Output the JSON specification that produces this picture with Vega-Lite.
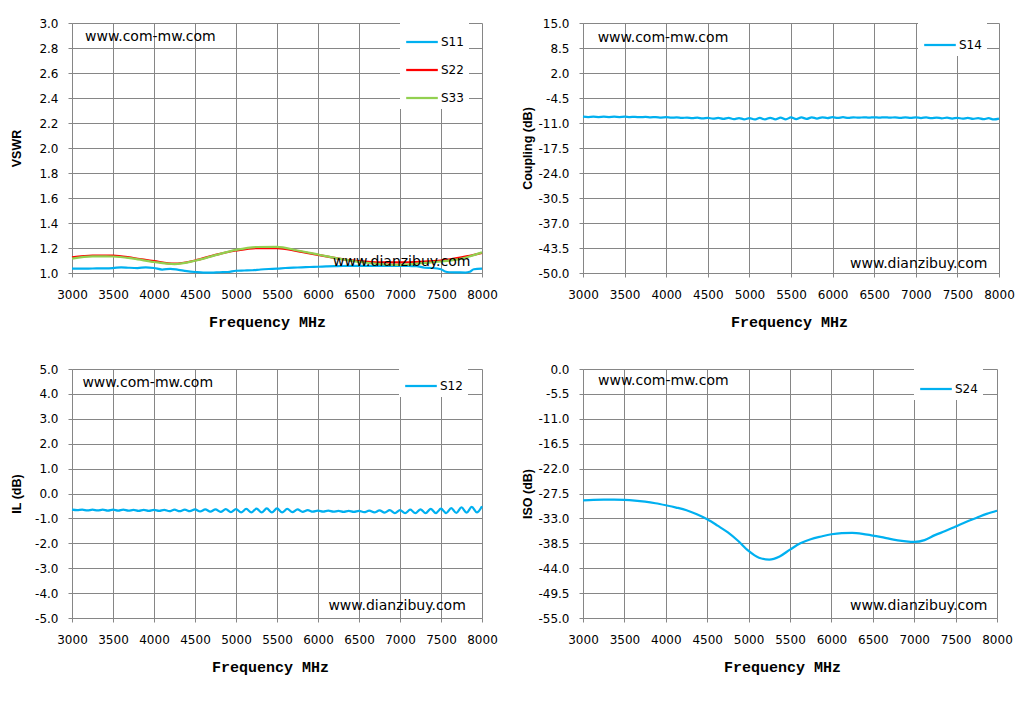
{
  "$schema": "https://vega.github.io/schema/vega-lite/v6.json",
  "padding": {"left": 10, "top": 17, "right": 5, "bottom": 5},
  "background": "#ffffff",
  "columns": 2,
  "bounds": "flush",
  "align": "each",
  "spacing": {"row": 96, "column": 101},
  "resolve": {"scale": {"color": "independent"}, "legend": {"color": "independent"}},
  "datasets": {
    "vswr": [
      {"f": 3000, "v": 1.035, "s": "S11"}, {"f": 3100, "v": 1.035, "s": "S11"}, {"f": 3200, "v": 1.035, "s": "S11"}, {"f": 3300, "v": 1.037, "s": "S11"}, {"f": 3400, "v": 1.037, "s": "S11"}, {"f": 3500, "v": 1.039, "s": "S11"}, {"f": 3600, "v": 1.046, "s": "S11"}, {"f": 3700, "v": 1.042, "s": "S11"}, {"f": 3800, "v": 1.04, "s": "S11"}, {"f": 3900, "v": 1.046, "s": "S11"}, {"f": 4000, "v": 1.04, "s": "S11"}, {"f": 4100, "v": 1.028, "s": "S11"}, {"f": 4200, "v": 1.034, "s": "S11"}, {"f": 4300, "v": 1.025, "s": "S11"}, {"f": 4400, "v": 1.015, "s": "S11"}, {"f": 4500, "v": 1.008, "s": "S11"}, {"f": 4600, "v": 1.003, "s": "S11"}, {"f": 4700, "v": 1.003, "s": "S11"}, {"f": 4800, "v": 1.006, "s": "S11"}, {"f": 4900, "v": 1.008, "s": "S11"}, {"f": 5000, "v": 1.018, "s": "S11"}, {"f": 5100, "v": 1.02, "s": "S11"}, {"f": 5200, "v": 1.022, "s": "S11"}, {"f": 5300, "v": 1.028, "s": "S11"}, {"f": 5400, "v": 1.032, "s": "S11"}, {"f": 5500, "v": 1.035, "s": "S11"}, {"f": 5600, "v": 1.04, "s": "S11"}, {"f": 5700, "v": 1.043, "s": "S11"}, {"f": 5800, "v": 1.045, "s": "S11"}, {"f": 5900, "v": 1.048, "s": "S11"}, {"f": 6000, "v": 1.05, "s": "S11"}, {"f": 6100, "v": 1.053, "s": "S11"}, {"f": 6200, "v": 1.055, "s": "S11"}, {"f": 6300, "v": 1.056, "s": "S11"}, {"f": 6400, "v": 1.057, "s": "S11"}, {"f": 6500, "v": 1.058, "s": "S11"}, {"f": 6600, "v": 1.058, "s": "S11"}, {"f": 6700, "v": 1.058, "s": "S11"}, {"f": 6800, "v": 1.058, "s": "S11"}, {"f": 6900, "v": 1.058, "s": "S11"}, {"f": 7000, "v": 1.058, "s": "S11"}, {"f": 7100, "v": 1.056, "s": "S11"}, {"f": 7200, "v": 1.055, "s": "S11"}, {"f": 7300, "v": 1.042, "s": "S11"}, {"f": 7400, "v": 1.04, "s": "S11"}, {"f": 7500, "v": 1.03, "s": "S11"}, {"f": 7550, "v": 1.012, "s": "S11"}, {"f": 7600, "v": 1.006, "s": "S11"}, {"f": 7700, "v": 1.005, "s": "S11"}, {"f": 7800, "v": 1.004, "s": "S11"}, {"f": 7850, "v": 1.01, "s": "S11"}, {"f": 7900, "v": 1.03, "s": "S11"}, {"f": 8000, "v": 1.035, "s": "S11"},
      {"f": 3000, "v": 1.125, "s": "S22"}, {"f": 3250, "v": 1.14, "s": "S22"}, {"f": 3500, "v": 1.14, "s": "S22"}, {"f": 3750, "v": 1.12, "s": "S22"}, {"f": 4000, "v": 1.095, "s": "S22"}, {"f": 4250, "v": 1.075, "s": "S22"}, {"f": 4500, "v": 1.1, "s": "S22"}, {"f": 4750, "v": 1.145, "s": "S22"}, {"f": 5000, "v": 1.18, "s": "S22"}, {"f": 5250, "v": 1.2, "s": "S22"}, {"f": 5500, "v": 1.2, "s": "S22"}, {"f": 5750, "v": 1.175, "s": "S22"}, {"f": 6000, "v": 1.145, "s": "S22"}, {"f": 6250, "v": 1.115, "s": "S22"}, {"f": 6500, "v": 1.095, "s": "S22"}, {"f": 6750, "v": 1.085, "s": "S22"}, {"f": 7000, "v": 1.085, "s": "S22"}, {"f": 7250, "v": 1.09, "s": "S22"}, {"f": 7500, "v": 1.1, "s": "S22"}, {"f": 7750, "v": 1.125, "s": "S22"}, {"f": 8000, "v": 1.16, "s": "S22"},
      {"f": 3000, "v": 1.115, "s": "S33"}, {"f": 3250, "v": 1.133, "s": "S33"}, {"f": 3500, "v": 1.132, "s": "S33"}, {"f": 3750, "v": 1.115, "s": "S33"}, {"f": 4000, "v": 1.088, "s": "S33"}, {"f": 4250, "v": 1.072, "s": "S33"}, {"f": 4500, "v": 1.098, "s": "S33"}, {"f": 4750, "v": 1.143, "s": "S33"}, {"f": 5000, "v": 1.185, "s": "S33"}, {"f": 5250, "v": 1.208, "s": "S33"}, {"f": 5500, "v": 1.21, "s": "S33"}, {"f": 5750, "v": 1.18, "s": "S33"}, {"f": 6000, "v": 1.148, "s": "S33"}, {"f": 6250, "v": 1.115, "s": "S33"}, {"f": 6500, "v": 1.088, "s": "S33"}, {"f": 6750, "v": 1.072, "s": "S33"}, {"f": 7000, "v": 1.065, "s": "S33"}, {"f": 7250, "v": 1.078, "s": "S33"}, {"f": 7500, "v": 1.092, "s": "S33"}, {"f": 7750, "v": 1.115, "s": "S33"}, {"f": 8000, "v": 1.165, "s": "S33"}
    ],
    "s14": [
      {"f": 3000, "v": -9.36, "s": "S14"}, {"f": 3062.5, "v": -9.44, "s": "S14"}, {"f": 3125, "v": -9.36, "s": "S14"}, {"f": 3187.5, "v": -9.44, "s": "S14"}, {"f": 3250, "v": -9.36, "s": "S14"}, {"f": 3312.5, "v": -9.44, "s": "S14"}, {"f": 3375, "v": -9.36, "s": "S14"}, {"f": 3437.5, "v": -9.44, "s": "S14"}, {"f": 3500, "v": -9.36, "s": "S14"}, {"f": 3562.5, "v": -9.46, "s": "S14"}, {"f": 3625, "v": -9.39, "s": "S14"}, {"f": 3687.5, "v": -9.5, "s": "S14"}, {"f": 3750, "v": -9.43, "s": "S14"}, {"f": 3812.5, "v": -9.54, "s": "S14"}, {"f": 3875, "v": -9.46, "s": "S14"}, {"f": 3937.5, "v": -9.58, "s": "S14"}, {"f": 4000, "v": -9.5, "s": "S14"}, {"f": 4062.5, "v": -9.63, "s": "S14"}, {"f": 4125, "v": -9.54, "s": "S14"}, {"f": 4187.5, "v": -9.69, "s": "S14"}, {"f": 4250, "v": -9.58, "s": "S14"}, {"f": 4312.5, "v": -9.76, "s": "S14"}, {"f": 4375, "v": -9.61, "s": "S14"}, {"f": 4437.5, "v": -9.82, "s": "S14"}, {"f": 4500, "v": -9.65, "s": "S14"}, {"f": 4562.5, "v": -9.88, "s": "S14"}, {"f": 4625, "v": -9.67, "s": "S14"}, {"f": 4687.5, "v": -9.94, "s": "S14"}, {"f": 4750, "v": -9.69, "s": "S14"}, {"f": 4812.5, "v": -9.99, "s": "S14"}, {"f": 4875, "v": -9.7, "s": "S14"}, {"f": 4937.5, "v": -10.05, "s": "S14"}, {"f": 5000, "v": -9.72, "s": "S14"}, {"f": 5062.5, "v": -10.08, "s": "S14"}, {"f": 5125, "v": -9.68, "s": "S14"}, {"f": 5187.5, "v": -10.07, "s": "S14"}, {"f": 5250, "v": -9.64, "s": "S14"}, {"f": 5312.5, "v": -10.06, "s": "S14"}, {"f": 5375, "v": -9.59, "s": "S14"}, {"f": 5437.5, "v": -10.05, "s": "S14"}, {"f": 5500, "v": -9.55, "s": "S14"}, {"f": 5562.5, "v": -10.01, "s": "S14"}, {"f": 5625, "v": -9.54, "s": "S14"}, {"f": 5687.5, "v": -9.92, "s": "S14"}, {"f": 5750, "v": -9.53, "s": "S14"}, {"f": 5812.5, "v": -9.83, "s": "S14"}, {"f": 5875, "v": -9.51, "s": "S14"}, {"f": 5937.5, "v": -9.74, "s": "S14"}, {"f": 6000, "v": -9.5, "s": "S14"}, {"f": 6062.5, "v": -9.69, "s": "S14"}, {"f": 6125, "v": -9.5, "s": "S14"}, {"f": 6187.5, "v": -9.66, "s": "S14"}, {"f": 6250, "v": -9.51, "s": "S14"}, {"f": 6312.5, "v": -9.63, "s": "S14"}, {"f": 6375, "v": -9.51, "s": "S14"}, {"f": 6437.5, "v": -9.6, "s": "S14"}, {"f": 6500, "v": -9.51, "s": "S14"}, {"f": 6562.5, "v": -9.6, "s": "S14"}, {"f": 6625, "v": -9.51, "s": "S14"}, {"f": 6687.5, "v": -9.62, "s": "S14"}, {"f": 6750, "v": -9.52, "s": "S14"}, {"f": 6812.5, "v": -9.65, "s": "S14"}, {"f": 6875, "v": -9.52, "s": "S14"}, {"f": 6937.5, "v": -9.67, "s": "S14"}, {"f": 7000, "v": -9.52, "s": "S14"}, {"f": 7062.5, "v": -9.7, "s": "S14"}, {"f": 7125, "v": -9.55, "s": "S14"}, {"f": 7187.5, "v": -9.74, "s": "S14"}, {"f": 7250, "v": -9.59, "s": "S14"}, {"f": 7312.5, "v": -9.79, "s": "S14"}, {"f": 7375, "v": -9.62, "s": "S14"}, {"f": 7437.5, "v": -9.83, "s": "S14"}, {"f": 7500, "v": -9.65, "s": "S14"}, {"f": 7562.5, "v": -9.88, "s": "S14"}, {"f": 7625, "v": -9.69, "s": "S14"}, {"f": 7687.5, "v": -9.94, "s": "S14"}, {"f": 7750, "v": -9.73, "s": "S14"}, {"f": 7812.5, "v": -10.01, "s": "S14"}, {"f": 7875, "v": -9.76, "s": "S14"}, {"f": 7937.5, "v": -10.07, "s": "S14"}, {"f": 8000, "v": -9.85, "s": "S14"}
    ],
    "s12": [
      {"f": 3000, "v": -0.65, "s": "S12"}, {"f": 3062.5, "v": -0.67, "s": "S12"}, {"f": 3125, "v": -0.65, "s": "S12"}, {"f": 3187.5, "v": -0.68, "s": "S12"}, {"f": 3250, "v": -0.65, "s": "S12"}, {"f": 3312.5, "v": -0.68, "s": "S12"}, {"f": 3375, "v": -0.65, "s": "S12"}, {"f": 3437.5, "v": -0.69, "s": "S12"}, {"f": 3500, "v": -0.65, "s": "S12"}, {"f": 3562.5, "v": -0.69, "s": "S12"}, {"f": 3625, "v": -0.65, "s": "S12"}, {"f": 3687.5, "v": -0.69, "s": "S12"}, {"f": 3750, "v": -0.66, "s": "S12"}, {"f": 3812.5, "v": -0.7, "s": "S12"}, {"f": 3875, "v": -0.66, "s": "S12"}, {"f": 3937.5, "v": -0.7, "s": "S12"}, {"f": 4000, "v": -0.66, "s": "S12"}, {"f": 4062.5, "v": -0.7, "s": "S12"}, {"f": 4125, "v": -0.66, "s": "S12"}, {"f": 4187.5, "v": -0.71, "s": "S12"}, {"f": 4250, "v": -0.65, "s": "S12"}, {"f": 4312.5, "v": -0.71, "s": "S12"}, {"f": 4375, "v": -0.65, "s": "S12"}, {"f": 4437.5, "v": -0.71, "s": "S12"}, {"f": 4500, "v": -0.64, "s": "S12"}, {"f": 4562.5, "v": -0.72, "s": "S12"}, {"f": 4625, "v": -0.64, "s": "S12"}, {"f": 4687.5, "v": -0.73, "s": "S12"}, {"f": 4750, "v": -0.64, "s": "S12"}, {"f": 4812.5, "v": -0.74, "s": "S12"}, {"f": 4875, "v": -0.63, "s": "S12"}, {"f": 4937.5, "v": -0.75, "s": "S12"}, {"f": 5000, "v": -0.63, "s": "S12"}, {"f": 5062.5, "v": -0.76, "s": "S12"}, {"f": 5125, "v": -0.62, "s": "S12"}, {"f": 5187.5, "v": -0.76, "s": "S12"}, {"f": 5250, "v": -0.61, "s": "S12"}, {"f": 5312.5, "v": -0.76, "s": "S12"}, {"f": 5375, "v": -0.6, "s": "S12"}, {"f": 5437.5, "v": -0.76, "s": "S12"}, {"f": 5500, "v": -0.6, "s": "S12"}, {"f": 5562.5, "v": -0.76, "s": "S12"}, {"f": 5625, "v": -0.62, "s": "S12"}, {"f": 5687.5, "v": -0.75, "s": "S12"}, {"f": 5750, "v": -0.64, "s": "S12"}, {"f": 5812.5, "v": -0.74, "s": "S12"}, {"f": 5875, "v": -0.67, "s": "S12"}, {"f": 5937.5, "v": -0.73, "s": "S12"}, {"f": 6000, "v": -0.69, "s": "S12"}, {"f": 6062.5, "v": -0.73, "s": "S12"}, {"f": 6125, "v": -0.69, "s": "S12"}, {"f": 6187.5, "v": -0.73, "s": "S12"}, {"f": 6250, "v": -0.7, "s": "S12"}, {"f": 6312.5, "v": -0.74, "s": "S12"}, {"f": 6375, "v": -0.7, "s": "S12"}, {"f": 6437.5, "v": -0.74, "s": "S12"}, {"f": 6500, "v": -0.7, "s": "S12"}, {"f": 6562.5, "v": -0.75, "s": "S12"}, {"f": 6625, "v": -0.69, "s": "S12"}, {"f": 6687.5, "v": -0.76, "s": "S12"}, {"f": 6750, "v": -0.68, "s": "S12"}, {"f": 6812.5, "v": -0.77, "s": "S12"}, {"f": 6875, "v": -0.67, "s": "S12"}, {"f": 6937.5, "v": -0.79, "s": "S12"}, {"f": 7000, "v": -0.67, "s": "S12"}, {"f": 7062.5, "v": -0.79, "s": "S12"}, {"f": 7125, "v": -0.65, "s": "S12"}, {"f": 7187.5, "v": -0.79, "s": "S12"}, {"f": 7250, "v": -0.64, "s": "S12"}, {"f": 7312.5, "v": -0.79, "s": "S12"}, {"f": 7375, "v": -0.62, "s": "S12"}, {"f": 7437.5, "v": -0.79, "s": "S12"}, {"f": 7500, "v": -0.61, "s": "S12"}, {"f": 7562.5, "v": -0.79, "s": "S12"}, {"f": 7625, "v": -0.59, "s": "S12"}, {"f": 7687.5, "v": -0.78, "s": "S12"}, {"f": 7750, "v": -0.56, "s": "S12"}, {"f": 7812.5, "v": -0.77, "s": "S12"}, {"f": 7875, "v": -0.54, "s": "S12"}, {"f": 7937.5, "v": -0.76, "s": "S12"}, {"f": 8000, "v": -0.51, "s": "S12"}
    ],
    "s24": [
      {"f": 3000, "v": -29.0, "s": "S24"}, {"f": 3125, "v": -28.9, "s": "S24"}, {"f": 3250, "v": -28.85, "s": "S24"}, {"f": 3375, "v": -28.85, "s": "S24"}, {"f": 3500, "v": -28.9, "s": "S24"}, {"f": 3625, "v": -29.05, "s": "S24"}, {"f": 3750, "v": -29.3, "s": "S24"}, {"f": 3875, "v": -29.65, "s": "S24"}, {"f": 4000, "v": -30.1, "s": "S24"}, {"f": 4125, "v": -30.6, "s": "S24"}, {"f": 4250, "v": -31.2, "s": "S24"}, {"f": 4375, "v": -32.1, "s": "S24"}, {"f": 4500, "v": -33.2, "s": "S24"}, {"f": 4625, "v": -34.6, "s": "S24"}, {"f": 4750, "v": -36.1, "s": "S24"}, {"f": 4875, "v": -38.0, "s": "S24"}, {"f": 5000, "v": -40.2, "s": "S24"}, {"f": 5125, "v": -41.7, "s": "S24"}, {"f": 5250, "v": -42.1, "s": "S24"}, {"f": 5375, "v": -41.4, "s": "S24"}, {"f": 5500, "v": -39.9, "s": "S24"}, {"f": 5625, "v": -38.5, "s": "S24"}, {"f": 5750, "v": -37.6, "s": "S24"}, {"f": 5875, "v": -37.0, "s": "S24"}, {"f": 6000, "v": -36.5, "s": "S24"}, {"f": 6125, "v": -36.25, "s": "S24"}, {"f": 6250, "v": -36.2, "s": "S24"}, {"f": 6375, "v": -36.4, "s": "S24"}, {"f": 6500, "v": -36.8, "s": "S24"}, {"f": 6625, "v": -37.2, "s": "S24"}, {"f": 6750, "v": -37.7, "s": "S24"}, {"f": 6875, "v": -38.0, "s": "S24"}, {"f": 7000, "v": -38.2, "s": "S24"}, {"f": 7125, "v": -37.8, "s": "S24"}, {"f": 7250, "v": -36.7, "s": "S24"}, {"f": 7375, "v": -35.8, "s": "S24"}, {"f": 7500, "v": -34.8, "s": "S24"}, {"f": 7625, "v": -33.8, "s": "S24"}, {"f": 7750, "v": -32.9, "s": "S24"}, {"f": 7875, "v": -32.0, "s": "S24"}, {"f": 8000, "v": -31.3, "s": "S24"}
    ]
  },
  "config": {
    "font": "DejaVu Sans",
    "view": {"stroke": null},
    "axis": {
      "gridColor": "#868686", "gridOpacity": 1, "gridWidth": 1,
      "domainColor": "#868686", "domainWidth": 1,
      "tickColor": "#868686", "tickSize": 4, "tickWidth": 1,
      "labelColor": "#000000", "labelFont": "DejaVu Sans", "labelFontSize": 12,
      "labelFlush": false, "labelOverlap": false, "tickCount": 30,
      "titleColor": "#000000"
    },
    "axisX": {"labelPadding": 12, "titleFont": "Liberation Mono", "titleFontSize": 15, "titleFontWeight": "bold", "titlePadding": 14},
    "axisY": {"labelPadding": 10, "titleFont": "Liberation Sans", "titleFontSize": 12.5, "titleFontWeight": "bold", "titlePadding": 13, "minExtent": 36, "maxExtent": 36},
    "legend": {
      "symbolType": "stroke", "symbolSize": 1000, "symbolStrokeWidth": 2.25,
      "labelFont": "DejaVu Sans", "labelFontSize": 12, "labelColor": "#000000", "labelOffset": 2,
      "padding": 5, "rowPadding": 5, "fillColor": "#ffffff"
    },
    "text": {"font": "DejaVu Sans", "fontSize": 14, "color": "#000000", "align": "left", "baseline": "middle"}
  },
  "concat": [
    {
      "width": 410, "height": 250,
      "layer": [
        {
          "data": {"name": "vswr"},
          "mark": {"type": "line", "interpolate": "monotone", "strokeWidth": 2.25},
          "encoding": {
            "x": {"field": "f", "type": "quantitative", "scale": {"domain": [3000, 8000], "nice": false, "zero": false}, "axis": {"values": [3000, 3500, 4000, 4500, 5000, 5500, 6000, 6500, 7000, 7500, 8000], "format": "d", "title": "Frequency MHz", "titleX": 195}},
            "y": {"field": "v", "type": "quantitative", "scale": {"domain": [1, 3], "nice": false, "zero": false}, "axis": {"values": [1, 1.2, 1.4, 1.6, 1.8, 2, 2.2, 2.4, 2.6, 2.8, 3], "format": ".1f", "title": "VSWR"}},
            "color": {"field": "s", "type": "nominal", "scale": {"domain": ["S11", "S22", "S33"], "range": ["#00B0F0", "#FF0000", "#92D050"]}, "legend": {"title": null, "orient": "none", "legendX": 328, "legendY": -3}}
          }
        },
        {
          "data": {"values": [{"t": "www.com-mw.com"}]},
          "mark": {"type": "text"},
          "encoding": {"x": {"datum": 3160}, "y": {"datum": 2.89}, "text": {"field": "t"}}
        },
        {
          "data": {"values": [{"t": "www.dianzibuy.com"}]},
          "mark": {"type": "text"},
          "encoding": {"x": {"datum": 6183}, "y": {"datum": 1.085}, "text": {"field": "t"}}
        }
      ]
    },
    {
      "width": 416, "height": 250,
      "layer": [
        {
          "data": {"name": "s14"},
          "mark": {"type": "line", "interpolate": "monotone", "strokeWidth": 2.25},
          "encoding": {
            "x": {"field": "f", "type": "quantitative", "scale": {"domain": [3000, 8000], "nice": false, "zero": false}, "axis": {"values": [3000, 3500, 4000, 4500, 5000, 5500, 6000, 6500, 7000, 7500, 8000], "format": "d", "title": "Frequency MHz", "titleX": 206}},
            "y": {"field": "v", "type": "quantitative", "scale": {"domain": [-50, 15], "nice": false, "zero": false}, "axis": {"values": [-50, -43.5, -37, -30.5, -24, -17.5, -11, -4.5, 2, 8.5, 15], "labelExpr": "replace(format(datum.value, '.1f'), '\u2212', '-')", "title": "Coupling (dB)"}},
            "color": {"field": "s", "type": "nominal", "scale": {"domain": ["S14"], "range": ["#00B0F0"]}, "legend": {"title": null, "orient": "none", "legendX": 335, "legendY": 0}}
          }
        },
        {
          "data": {"values": [{"t": "www.com-mw.com"}]},
          "mark": {"type": "text"},
          "encoding": {"x": {"datum": 3176}, "y": {"datum": 11.2}, "text": {"field": "t"}}
        },
        {
          "data": {"values": [{"t": "www.dianzibuy.com"}]},
          "mark": {"type": "text"},
          "encoding": {"x": {"datum": 6210}, "y": {"datum": -47.6}, "text": {"field": "t"}}
        }
      ]
    },
    {
      "width": 410, "height": 249,
      "layer": [
        {
          "data": {"name": "s12"},
          "mark": {"type": "line", "interpolate": "monotone", "strokeWidth": 2.25},
          "encoding": {
            "x": {"field": "f", "type": "quantitative", "scale": {"domain": [3000, 8000], "nice": false, "zero": false}, "axis": {"values": [3000, 3500, 4000, 4500, 5000, 5500, 6000, 6500, 7000, 7500, 8000], "format": "d", "title": "Frequency MHz", "titleX": 198}},
            "y": {"field": "v", "type": "quantitative", "scale": {"domain": [-5, 5], "nice": false, "zero": false}, "axis": {"values": [-5, -4, -3, -2, -1, 0, 1, 2, 3, 4, 5], "labelExpr": "replace(format(datum.value, '.1f'), '\u2212', '-')", "title": "IL (dB)"}},
            "color": {"field": "s", "type": "nominal", "scale": {"domain": ["S12"], "range": ["#00B0F0"]}, "legend": {"title": null, "orient": "none", "legendX": 327, "legendY": -5}}
          }
        },
        {
          "data": {"values": [{"t": "www.com-mw.com"}]},
          "mark": {"type": "text"},
          "encoding": {"x": {"datum": 3127}, "y": {"datum": 4.45}, "text": {"field": "t"}}
        },
        {
          "data": {"values": [{"t": "www.dianzibuy.com"}]},
          "mark": {"type": "text"},
          "encoding": {"x": {"datum": 6127}, "y": {"datum": -4.5}, "text": {"field": "t"}}
        }
      ]
    },
    {
      "width": 414, "height": 249,
      "layer": [
        {
          "data": {"name": "s24"},
          "mark": {"type": "line", "interpolate": "monotone", "strokeWidth": 2.25},
          "encoding": {
            "x": {"field": "f", "type": "quantitative", "scale": {"domain": [3000, 8000], "nice": false, "zero": false}, "axis": {"values": [3000, 3500, 4000, 4500, 5000, 5500, 6000, 6500, 7000, 7500, 8000], "format": "d", "title": "Frequency MHz", "titleX": 199}},
            "y": {"field": "v", "type": "quantitative", "scale": {"domain": [-55, 0], "nice": false, "zero": false}, "axis": {"values": [-55, -49.5, -44, -38.5, -33, -27.5, -22, -16.5, -11, -5.5, 0], "labelExpr": "replace(format(datum.value, '.1f'), '\u2212', '-')", "title": "ISO (dB)"}},
            "color": {"field": "s", "type": "nominal", "scale": {"domain": ["S24"], "range": ["#00B0F0"]}, "legend": {"title": null, "orient": "none", "legendX": 331, "legendY": -2}}
          }
        },
        {
          "data": {"values": [{"t": "www.com-mw.com"}]},
          "mark": {"type": "text"},
          "encoding": {"x": {"datum": 3181}, "y": {"datum": -2.6}, "text": {"field": "t"}}
        },
        {
          "data": {"values": [{"t": "www.dianzibuy.com"}]},
          "mark": {"type": "text"},
          "encoding": {"x": {"datum": 6225}, "y": {"datum": -52.3}, "text": {"field": "t"}}
        }
      ]
    }
  ]
}
